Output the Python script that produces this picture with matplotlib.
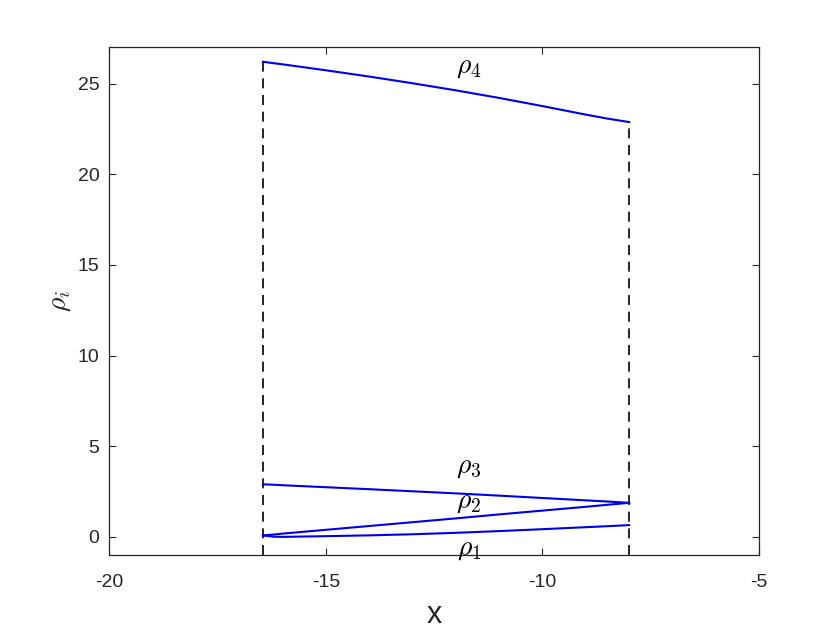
# -*- coding: utf-8 -*-
"""
Four branches rho_i(x) between two dashed boundaries
"""

import matplotlib
matplotlib.use("Agg")
from matplotlib import pyplot as plt

#_____________________________________________________
#DATA

x = [-16.45, -16.2, -16.0, -15.0, -14.0, -13.0, -12.0, -11.0, -10.0, -9.0, -8.5, -8.0]
rho1 = [0.08, 0.01, 0.00, 0.04, 0.085, 0.145, 0.225, 0.32, 0.425, 0.535, 0.59, 0.65]
rho2 = [0.08, 0.13, 0.18, 0.39, 0.60, 0.81, 1.02, 1.24, 1.45, 1.66, 1.77, 1.88]
rho3 = [2.90, 2.875, 2.85, 2.74, 2.63, 2.515, 2.40, 2.275, 2.145, 2.015, 1.95, 1.88]
rho4 = [26.2, 26.12, 26.06, 25.73, 25.385, 25.015, 24.625, 24.205, 23.755, 23.285, 23.065, 22.875]

labels = [r"$\rho_1$", r"$\rho_2$", r"$\rho_3$", r"$\rho_4$"]
label_x = -11.7
label_y = [-0.66, 1.93, 3.86, 25.9]

xticks = [-20, -15, -10, -5]
yticks = [0, 5, 10, 15, 20, 25]

#_____________________________________________________
#PLOT

plt.rcParams["font.family"] = ["Liberation Sans", "DejaVu Sans"]
plt.rcParams["mathtext.fontset"] = "cm"
plt.rcParams["axes.unicode_minus"] = False

fig = plt.figure(figsize=(8.4, 6.3), dpi=100)
ax = fig.add_axes([0.1298, 0.119, 0.774, 0.806])

# dashed boundaries from the bottom of the axes up to the top branch
ax.plot([x[0], x[0]], [-1, rho4[0]], "k--", lw=1.2, dashes=(6, 4))
ax.plot([x[-1], x[-1]], [-1, rho4[-1]], "k--", lw=1.2, dashes=(6, 4))

for r in [rho1, rho2, rho3, rho4]:
    ax.plot(x, r, color="#0000e8", lw=1.5)

for lab, ly in zip(labels, label_y):
    ax.text(label_x, ly, lab, fontsize=20, ha="center", va="center")

ax.set_xlim(-20, -5)
ax.set_ylim(-1, 27)
ax.set_xticks(xticks)
ax.set_yticks(yticks)
ax.tick_params(direction="in", top=True, right=True, length=5, width=0.8,
               labelsize=14, colors="#262626")
ax.tick_params(axis="x", pad=14)
ax.tick_params(axis="y", pad=7)
for s in ax.spines.values():
    s.set_color("#262626")
    s.set_linewidth(0.9)

ax.set_xlabel("x", fontsize=22, color="#262626", labelpad=6)
ax.set_ylabel(r"$\rho_i$", fontsize=20, color="#262626", labelpad=3)

fig.savefig("out.png", dpi=100)
